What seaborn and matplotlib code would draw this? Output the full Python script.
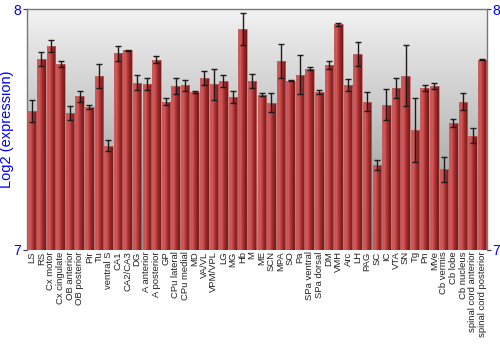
import matplotlib
matplotlib.use("Agg")
import matplotlib.pyplot as plt
import seaborn as sns
import numpy as np
import pandas as pd
from matplotlib.colors import LinearSegmentedColormap

regions = ["LS", "RS", "Cx motor", "Cx cingulate", "OB anterior", "OB posterior", "Pir", "Tu",
           "ventral S", "CA1", "CA2/CA3", "DG", "A anterior", "A posterior", "GP", "CPu lateral",
           "CPu medial", "MD", "VA/VL", "VPM/VPL", "LG", "MG", "Hb", "M", "ME", "SCN", "MPA", "SO",
           "Pa", "SPa ventral", "SPa dorsal", "DM", "VMH", "Arc", "LH", "PAG", "SC", "IC", "VTA",
           "SN", "Tg", "Pn", "MVe", "Cb vermis", "Cb lobe", "Cb nucleus", "spinal cord anterior",
           "spinal cord posterior"]
values = [7.579, 7.794, 7.848, 7.773, 7.570, 7.638, 7.594, 7.722,
          7.434, 7.818, 7.830, 7.696, 7.691, 7.791, 7.617, 7.681,
          7.684, 7.656, 7.715, 7.688, 7.702, 7.634, 7.919, 7.703,
          7.645, 7.612, 7.785, 7.704, 7.729, 7.753, 7.657, 7.768,
          7.939, 7.684, 7.816, 7.617, 7.352, 7.604, 7.673, 7.725,
          7.499, 7.674, 7.682, 7.336, 7.528, 7.616, 7.475, 7.790]
errors = [0.046, 0.028, 0.027, 0.011, 0.030, 0.023, 0.008, 0.050,
          0.023, 0.032, 0.002, 0.030, 0.024, 0.015, 0.013, 0.034,
          0.022, 0.004, 0.028, 0.063, 0.026, 0.025, 0.066, 0.030,
          0.007, 0.040, 0.072, 0.003, 0.080, 0.006, 0.008, 0.017,
          0.006, 0.025, 0.050, 0.040, 0.021, 0.064, 0.041, 0.127,
          0.134, 0.012, 0.014, 0.052, 0.018, 0.036, 0.031, 0.002]
yticks = [7, 8]

df = pd.DataFrame({"region": regions, "value": values})

sns.set_style("white")
plt.rcParams['font.family'] = ['Liberation Sans', 'DejaVu Sans']

fig = plt.figure(figsize=(5, 3.5), dpi=100)
ax = fig.add_axes([0.054, 0.286, 0.92, 0.687])

# background gradient (light at top, darker at bottom)
bg = np.linspace(0, 1, 256).reshape(-1, 1)
bgcmap = LinearSegmentedColormap.from_list("bg", ["#f2f2f2", "#8e8e8e"])
ax.imshow(bg, cmap=bgcmap, aspect="auto", origin="upper",
          extent=[-0.5, 47.5, 7, 8], zorder=0)

sns.barplot(data=df, x="region", y="value", color="#a83232", width=0.88,
            edgecolor="#c86a6a", linewidth=0.5, ax=ax, zorder=2)

# horizontal gradient on bars
barcmap = LinearSegmentedColormap.from_list("bar", ["#bc4646", "#d85c5c", "#b43a3a", "#8c2424", "#761b1b"])
grad = np.linspace(0, 1, 64).reshape(1, -1)
for p in ax.patches:
    x0 = p.get_x(); w = p.get_width(); h = p.get_height(); y0 = p.get_y()
    im = ax.imshow(grad, cmap=barcmap, aspect="auto",
                   extent=[x0, x0 + w, 7, y0 + h], zorder=3)
    im.set_clip_path(p)
    p.set_zorder(4)
    p.set_facecolor("none")

ax.errorbar(np.arange(len(values)), values, yerr=errors, fmt="none",
            ecolor="#1a1a1a", elinewidth=1, capsize=2, capthick=1, zorder=5)

ax.set_xlim(-0.5, len(values) - 0.5)
ax.set_ylim(7, 8)
ax.set_yticks(yticks)
ax.set_yticklabels([str(t) for t in yticks], color="blue", fontsize=10)
ax.tick_params(axis="y", which="both", left=True, right=True, labelleft=True, labelright=True,
               length=3, width=0.8, color="#333333", pad=1)
ax.tick_params(axis="x", length=0, pad=1)
ax.set_xticks(np.arange(len(values)))
ax.set_xticklabels(regions, rotation=90, fontsize=6.8, color="#222222")
ax.set_xlabel("")
ax.set_ylabel("Log2 (expression)", color="blue", fontsize=10.5, labelpad=0)
for s in ax.spines.values():
    s.set_color("#777777")
    s.set_linewidth(1)
ax.spines["bottom"].set_visible(False)

fig.savefig("out.png", dpi=100)
